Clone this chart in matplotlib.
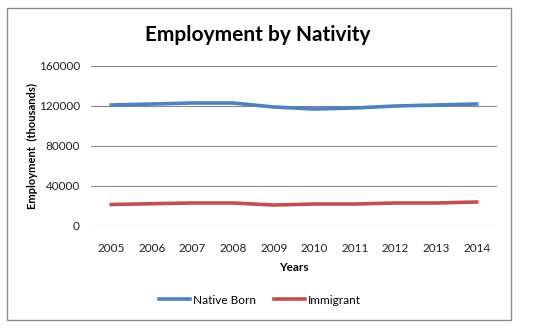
import matplotlib.pyplot as plt
from matplotlib.patches import Rectangle

years = ["2005", "2006", "2007", "2008", "2009", "2010", "2011", "2012", "2013", "2014"]
native_born = [121000, 122000, 123000, 123000, 119000, 117000, 118000, 120000, 121000, 122000]
immigrant = [21500, 22300, 23000, 23000, 21000, 22000, 22000, 23000, 23000, 24000]
y_ticks = [0, 40000, 80000, 120000, 160000]

plt.rcParams["font.family"] = ["Lato", "DejaVu Sans"]

W, H = 553, 333
fig = plt.figure(figsize=(W / 100, H / 100), dpi=100)
fig.patches.append(
    Rectangle((7 / W, 1 - 320 / H), 504 / W, 312 / H, transform=fig.transFigure,
              fill=False, edgecolor="#8c8c8c", linewidth=1)
)

ax = fig.add_axes([91 / W, 1 - 226 / H, 406 / W, 160 / H])
x = list(range(len(years)))
ax.plot(x, native_born, color="#4F81BD", linewidth=2.6, label="Native Born")
ax.plot(x, immigrant, color="#C0504D", linewidth=2.6, label="Immigrant")

ax.set_xlim(-0.5, len(years) - 0.5)
ax.set_ylim(0, 160000)
ax.set_yticks(y_ticks)
ax.set_yticklabels([str(v) for v in y_ticks])
ax.set_xticks(x)
ax.set_xticklabels(years)
ax.tick_params(length=0, labelsize=8.5, colors="#222222", pad=12)
ax.tick_params(axis="y", pad=8)
ax.grid(axis="y", color="#868686", linewidth=0.8)
ax.set_axisbelow(True)
for s in ax.spines.values():
    s.set_visible(False)

ax.set_xlabel("Years", fontsize=8.5, fontweight="bold", labelpad=6)
ax.set_ylabel("Employment  (thousands)", fontsize=8, fontweight="bold")
ax.yaxis.set_label_coords(-(91 - 38) / 406, 0.5)

fig.text(258 / W, 1 - 35 / H, "Employment by Nativity", ha="center", va="center",
         fontsize=15, fontweight="bold")

fig.legend(loc="center", bbox_to_anchor=(260 / W, 1 - 300 / H), ncol=2, frameon=False,
           fontsize=8.5, handlelength=2.6, columnspacing=1.5, handletextpad=0.3)

fig.savefig("out.png", dpi=100)
